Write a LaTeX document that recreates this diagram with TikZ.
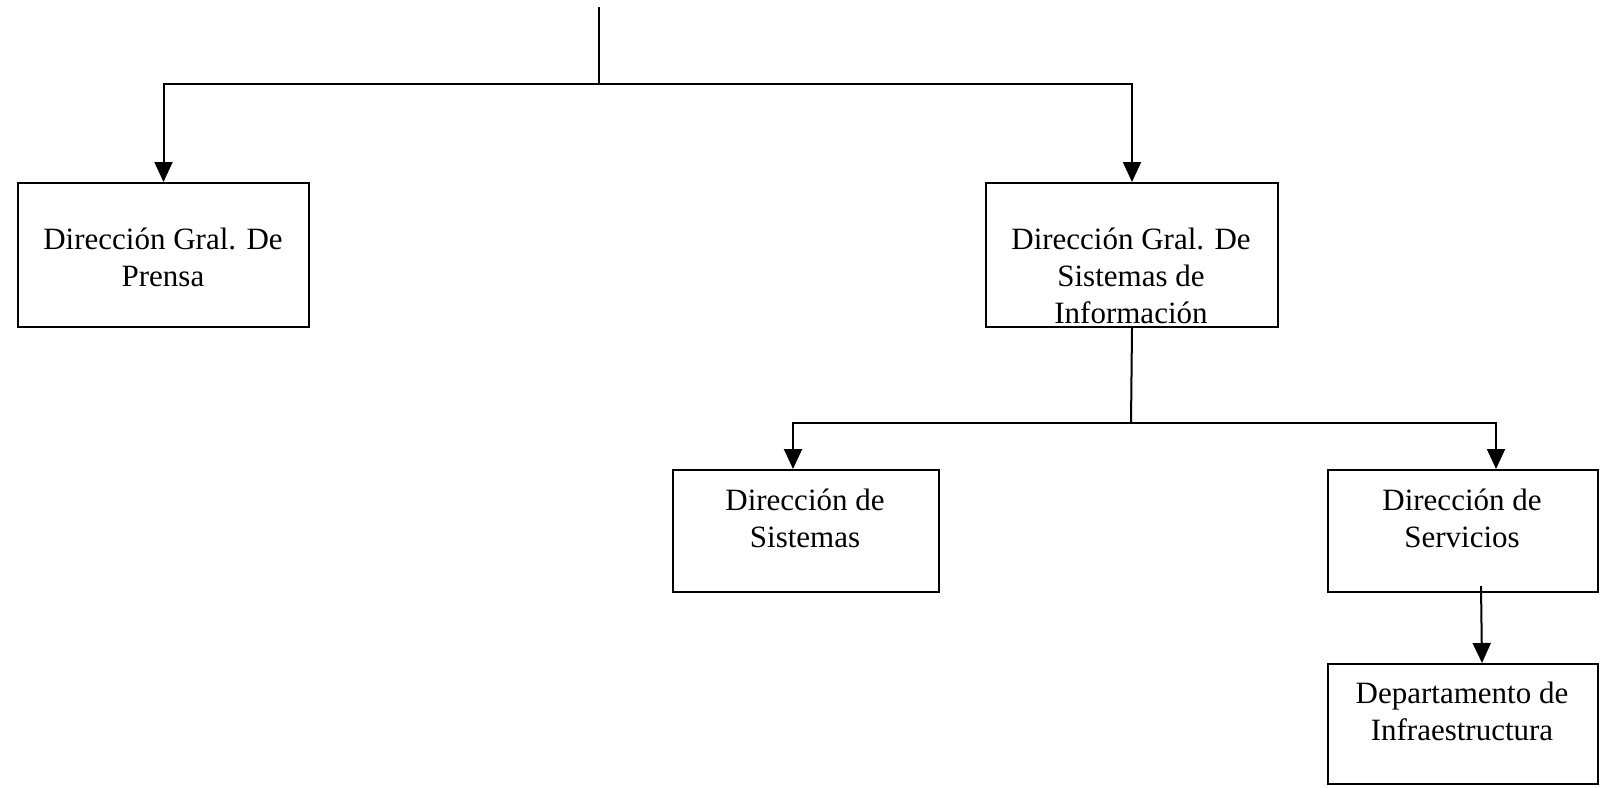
\documentclass[tikz,border=0pt]{standalone}
\usepackage{fontspec}
\setmainfont{Liberation Serif}
\usetikzlibrary{arrows.meta}
\begin{document}
\begin{tikzpicture}[x=1pt,y=-1pt,
  orgbox/.style={draw, line width=2pt, inner sep=0pt, anchor=north west},
  % multi-line labels are placed by the baseline of their last line
  boxtext/.style={anchor=base, align=center, inner sep=0pt,
    font=\fontsize{31}{37}\selectfont},
  link/.style={line width=2pt},
  arr/.style={line width=2pt, -{Triangle[length=20pt,width=18pt]}}]
\useasboundingbox (0,0) rectangle (1606,787);

% boxes
\node[orgbox, minimum width=291pt, minimum height=144pt] (prensa) at (17,182) {};
\node[orgbox, minimum width=292pt, minimum height=144pt] (dgsi) at (985,182) {};
\node[orgbox, minimum width=266pt, minimum height=122pt] (dsis) at (672,469) {};
\node[orgbox, minimum width=270pt, minimum height=122pt] (dserv) at (1327,469) {};
\node[orgbox, minimum width=270pt, minimum height=120pt] (depto) at (1327,663) {};

% labels
\node[boxtext] (prensa-t) at (163,286) {Dirección Gral. De\\Prensa};
\node[boxtext] (dgsi-t) at (1131,323) {Dirección Gral. De\\Sistemas de\\Información};
\node[boxtext] (dsis-t) at (805,547) {Dirección de\\Sistemas};
\node[boxtext] (dserv-t) at (1462,547) {Dirección de\\Servicios};
\node[boxtext] (depto-t) at (1462,740) {Departamento de\\Infraestructura};

% junction points
\coordinate (top) at (599,7);
\coordinate (j1) at (599,84);
\coordinate (j2) at (1131,423);
\coordinate (servout) at (1481,586);

% connectors
\draw[link] (top) -- (j1);
\draw[arr] (j1) -| (prensa.north);
\draw[arr] (j1) -| (dgsi.north);
\draw[link] (dgsi.south) -- (j2);
\draw[arr] (j2) -| ([xshift=-13pt]dsis.north);
\draw[arr] (j2) -| ([xshift=33pt]dserv.north);
\draw[arr] (servout) -- ([xshift=19pt]depto.north);
\end{tikzpicture}
\end{document}
